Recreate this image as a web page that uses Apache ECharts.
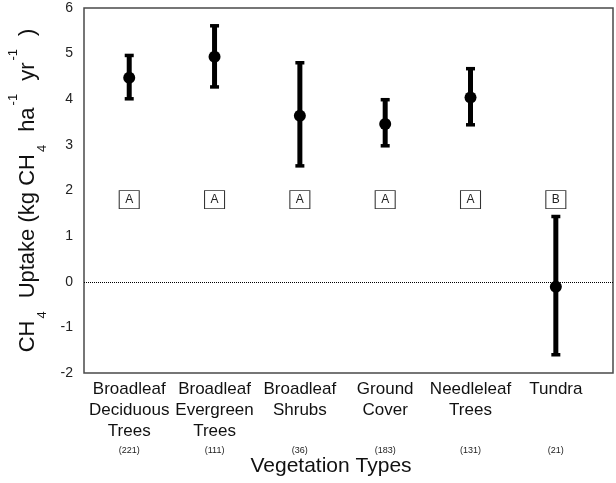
<!DOCTYPE html>
<html>
<head>
<meta charset="utf-8">
<script src="https://cdn.jsdelivr.net/npm/echarts@6/dist/echarts.min.js"></script>
<style>
  html, body { margin: 0; padding: 0; background: #fff; }
  #chart { width: 616px; height: 483px; }
</style>
</head>
<body>
<div id="chart"></div>
<script>
// vegetation types, one line of the label per array item
const categories = [
  ['Broadleaf', 'Deciduous', 'Trees'],
  ['Broadleaf', 'Evergreen', 'Trees'],
  ['Broadleaf', 'Shrubs'],
  ['Ground', 'Cover'],
  ['Needleleaf', 'Trees'],
  ['Tundra']
];
const counts = [221, 111, 36, 183, 131, 21];
const means = [4.47, 4.93, 3.64, 3.46, 4.04, -0.11];
const upper = [4.96, 5.61, 4.80, 3.99, 4.67, 1.43];
const lower = [4.01, 4.27, 2.54, 2.98, 3.44, -1.60];
const letters = ['A', 'A', 'A', 'A', 'A', 'B'];
const letterY = 1.8;
const yTicks = [-2, -1, 0, 1, 2, 3, 4, 5, 6];

const xPos = categories.map((c, i) => i + 1);

const chart = echarts.init(document.getElementById('chart'));

// error bar: thick stem with short caps
function renderBar(params, api) {
  const x = api.value(0);
  const top = api.coord([x, api.value(2)]);
  const bot = api.coord([x, api.value(1)]);
  const capW = 4.5;
  return {
    type: 'group',
    children: [
      { type: 'line', shape: { x1: top[0], y1: top[1], x2: bot[0], y2: bot[1] }, style: { stroke: '#000', lineWidth: 5 } },
      { type: 'line', shape: { x1: top[0] - capW, y1: top[1], x2: top[0] + capW, y2: top[1] }, style: { stroke: '#000', lineWidth: 3.5 } },
      { type: 'line', shape: { x1: bot[0] - capW, y1: bot[1], x2: bot[0] + capW, y2: bot[1] }, style: { stroke: '#000', lineWidth: 3.5 } }
    ]
  };
}

const font = 'Liberation Sans, Arial, sans-serif';

const option = {
  animation: false,
  backgroundColor: '#fff',
  textStyle: { fontFamily: font },
  title: {
    text: 'Vegetation Types',
    left: 331,
    top: 456,
    padding: 0,
    textAlign: 'center',
    textStyle: { fontSize: 21, fontWeight: 'normal', color: '#111', fontFamily: font }
  },
  grid: {
    left: 84,
    right: 3,
    top: 8,
    bottom: 110,
    containLabel: false,
    outerBoundsMode: 'none',
    show: true,
    borderColor: '#4a4a4a',
    borderWidth: 1.5
  },
  xAxis: {
    type: 'value',
    min: 0.47,
    max: 6.67,
    axisLine: { show: false },
    axisTick: { show: false },
    splitLine: { show: false },
    axisLabel: {
      customValues: xPos,
      margin: 6,
      interval: 0,
      formatter: function (v) {
        const i = Math.round(v) - 1;
        const lines = categories[i].slice();
        while (lines.length < 3) lines.push('\u00a0');
        return lines.map(l => '{a|' + l + '}').join('\n') + '\n{n|(' + counts[i] + ')}';
      },
      rich: {
        a: { fontSize: 17, lineHeight: 21, color: '#111', fontFamily: font },
        n: { fontSize: 9, lineHeight: 17, color: '#222', fontFamily: font }
      }
    }
  },
  yAxis: {
    type: 'value',
    min: -2,
    max: 6,
    interval: 1,
    axisLine: { show: false },
    axisTick: { show: false },
    splitLine: { show: false },
    axisLabel: {
      margin: 11,
      fontSize: 14,
      color: '#222',
      customValues: yTicks
    },
    name: '{m|CH}{sub|4}{m|Uptake (kg CH}{sub|4}{m|ha}{sup|-1}{m|yr}{sup|-1}{m|)}',
    nameLocation: 'middle',
    nameGap: 35,
    nameTextStyle: {
      rich: {
        m: { fontSize: 22, color: '#111', lineHeight: 42, fontFamily: font },
        sub: { fontSize: 13, color: '#111', lineHeight: 13, verticalAlign: 'bottom', padding: [0, 13, 0, 2], fontFamily: font },
        sup: { fontSize: 13, color: '#111', lineHeight: 13, verticalAlign: 'top', padding: [0, 13, 0, 2], fontFamily: font }
      }
    }
  },
  series: [
    {
      type: 'custom',
      renderItem: renderBar,
      data: xPos.map((x, i) => [x, lower[i], upper[i]]),
      z: 2
    },
    {
      type: 'scatter',
      data: xPos.map((x, i) => [x, means[i]]),
      symbol: 'circle',
      symbolSize: 12,
      itemStyle: { color: '#000', opacity: 1 },
      z: 3,
      markLine: {
        silent: true,
        symbol: 'none',
        label: { show: false },
        lineStyle: { color: '#000', type: 'dotted', width: 1 },
        data: [{ yAxis: 0 }]
      }
    },
    {
      type: 'scatter',
      data: xPos.map((x, i) => [x, letterY, letters[i]]),
      symbol: 'rect',
      symbolSize: [20, 18],
      itemStyle: { color: '#fff', borderColor: '#333', borderWidth: 1, opacity: 1 },
      label: {
        show: true,
        position: 'inside',
        formatter: p => p.value[2],
        fontSize: 12,
        color: '#222'
      },
      z: 3
    }
  ]
};

chart.setOption(option);
</script>
</body>
</html>
